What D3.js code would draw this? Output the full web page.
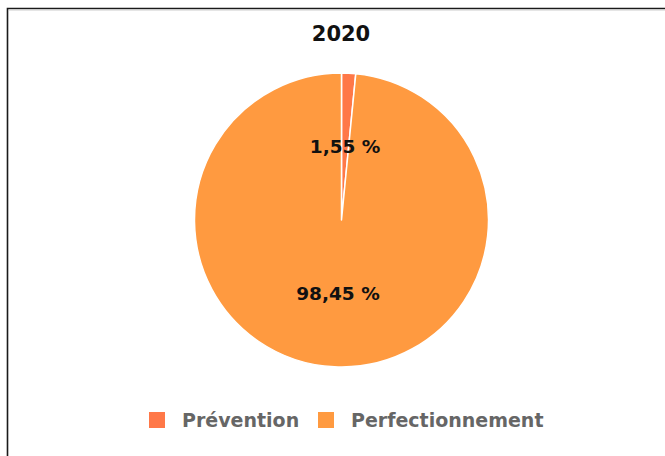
<!DOCTYPE html>
<html><head><meta charset="utf-8">
<script src="https://cdn.jsdelivr.net/npm/d3@7"></script>
<style>html,body{margin:0;padding:0;background:#fff;}svg{display:block;}</style>
</head><body>
<svg id="c" width="665" height="456"></svg>
<script>
const title = "2020";
const categories = ["Prévention", "Perfectionnement"];
const values = [1.55, 98.45];
const labels = ["1,55 %", "98,45 %"];
const colors = ["#ff7848", "#ff9a40"];

const svg = d3.select("#c");
const font = "'DejaVu Sans', sans-serif";

// frame (partly out of view)
svg.append("path").attr("d", "M7.5,456 L7.5,8.5 L665,8.5")
  .attr("fill", "none").attr("stroke", "#1a1a1a").attr("stroke-width", 1.6);
svg.append("line").attr("x1", 9).attr("x2", 665).attr("y1", 10).attr("y2", 10)
  .attr("stroke", "#ccc").attr("stroke-width", 1);

svg.append("text").attr("x", 341).attr("y", 41).attr("text-anchor", "middle")
  .attr("font-family", font).attr("font-weight", "bold").attr("font-size", 21)
  .attr("fill", "#111").text(title);

const cx = 341.5, cy = 220, R = 147;
const data = categories.map((c, i) => ({ cat: c, v: values[i], label: labels[i], color: colors[i] }));
const pie = d3.pie().value(d => d.v).sort(null);
const arc = d3.arc().innerRadius(0).outerRadius(R);
const labelArc = d3.arc().innerRadius(R * 0.5).outerRadius(R * 0.5);
const g = svg.append("g").attr("transform", `translate(${cx},${cy})`);
const arcs = pie(data);
g.selectAll("path").data(arcs).join("path")
  .attr("d", arc).attr("fill", d => d.data.color)
  .attr("stroke", "#fff").attr("stroke-width", 1.5).attr("stroke-linejoin", "round");
g.selectAll("text").data(arcs).join("text")
  .attr("transform", d => `translate(${labelArc.centroid(d)})`)
  .attr("text-anchor", "middle").attr("dy", "0.36em")
  .attr("font-family", font).attr("font-weight", "bold").attr("font-size", 18.5)
  .attr("fill", "#111").text(d => d.data.label);

// legend
const leg = svg.append("g");
const lx = [149, 318];
data.forEach((d, i) => {
  leg.append("rect").attr("x", lx[i]).attr("y", 412).attr("width", 16).attr("height", 16)
    .attr("fill", d.color);
  leg.append("text").attr("x", lx[i] + 33).attr("y", 427)
    .attr("font-family", font).attr("font-weight", "bold").attr("font-size", 19)
    .attr("fill", "#666").text(d.cat);
});
</script>
</body></html>
